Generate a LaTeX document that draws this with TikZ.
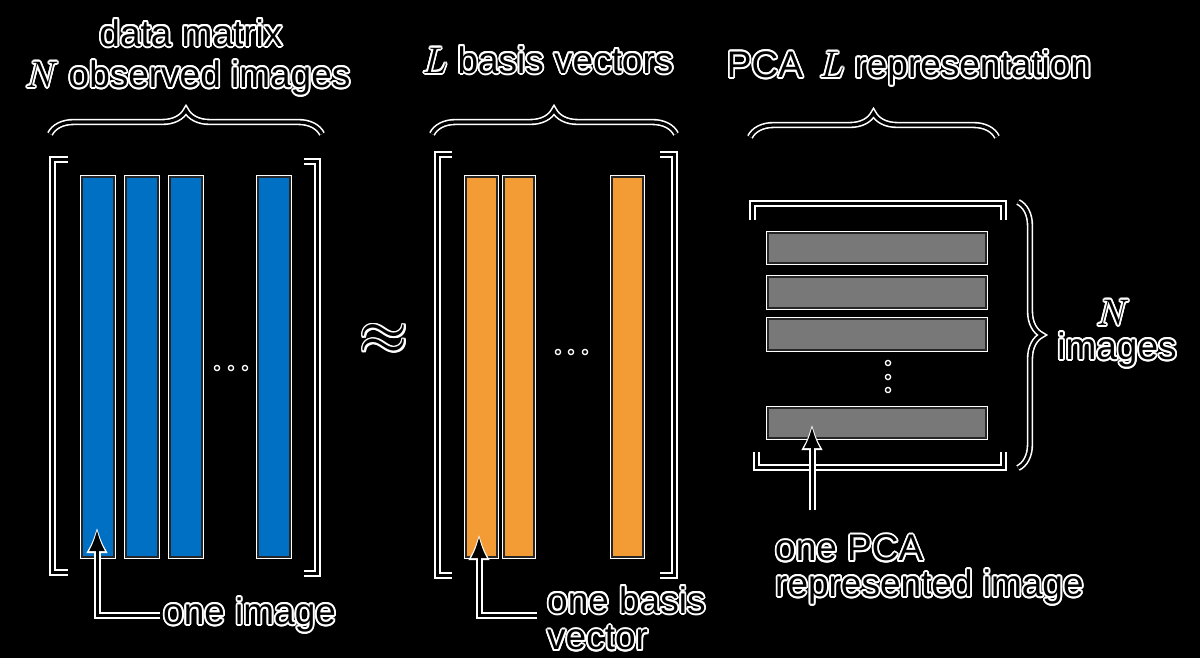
\RequirePackage{fix-cm}
\documentclass[tikz,border=0pt]{standalone}
\usepackage{fontspec}
\setmainfont{Liberation Sans}
\usetikzlibrary{arrows.meta,decorations.pathreplacing}
\definecolor{barblue}{RGB}{0,112,196}
\definecolor{barorange}{RGB}{243,156,54}
\definecolor{bargray}{RGB}{120,120,120}
\newcommand\hcp[3]{\rlap{\hskip#1\raisebox{#2}{#3}}}
\newcommand\halo[1]{{\color{white}%
\hcp{1.8pt}{0pt}{#1}\hcp{-1.8pt}{0pt}{#1}\hcp{0pt}{1.8pt}{#1}\hcp{0pt}{-1.8pt}{#1}%
\hcp{1.27pt}{1.27pt}{#1}\hcp{-1.27pt}{1.27pt}{#1}\hcp{1.27pt}{-1.27pt}{#1}\hcp{-1.27pt}{-1.27pt}{#1}%
\hcp{1.66pt}{0.7pt}{#1}\hcp{-1.66pt}{0.7pt}{#1}\hcp{1.66pt}{-0.7pt}{#1}\hcp{-1.66pt}{-0.7pt}{#1}%
\hcp{0.7pt}{1.66pt}{#1}\hcp{-0.7pt}{1.66pt}{#1}\hcp{0.7pt}{-1.66pt}{#1}\hcp{-0.7pt}{-1.66pt}{#1}}#1}
\begin{document}
\begin{tikzpicture}[x=1pt,y=-1pt,
  lbl/.style={inner sep=0pt,text=black,font=\fontsize{37}{44}\selectfont},
  brk/.style={draw=black,line width=3pt,line join=miter,preaction={draw=white,line width=7pt}},
  bar/.style={draw=black!85,line width=1.2pt,preaction={draw=white,line width=4.5pt}},
  brcw/.style={draw=white,line width=6.4pt,decorate,decoration={brace,amplitude=#1}},
  brcb/.style={draw=black,line width=3.2pt,decorate,decoration={brace,amplitude=#1}},
  dotw/.style={fill=black,draw=white,line width=1.3pt},
  arrw/.style={draw=white,line width=7pt,shorten >=-3pt,-{Latex[length=26pt,width=22pt]}},
  arrb/.style={draw=black,line width=3pt,-{Latex[length=21pt,width=16pt]}}]
\useasboundingbox (0,0) rectangle (1200,658);
\fill[black] (0,0) rectangle (1200,658);
% left matrix
\draw[brk] (68,160) -- (52,160) -- (52,572) -- (68,572);
\draw[brk] (304,162) -- (317,162) -- (317,573) -- (304,573);
\foreach \a/\b in {82/114,126/158,170/202,258/290}
  \draw[bar,fill=barblue] (\a,177) rectangle (\b,557);
\foreach \x in {217,231,245} \draw[dotw] (\x,368) circle (2.6);
% middle matrix
\draw[brk] (452,155) -- (437,155) -- (437,575) -- (452,575);
\draw[brk] (660,155) -- (674,155) -- (674,575) -- (660,575);
\foreach \a/\b in {466/497,504/534,612/643}
  \draw[bar,fill=barorange] (\a,177) rectangle (\b,557);
\foreach \x in {558,571,585} \draw[dotw] (\x,352) circle (2.6);
% right matrix
\draw[brk] (752,220) -- (752,203) -- (1003,203) -- (1003,220);
\draw[brk] (756,452) -- (756,467) -- (1003,467) -- (1003,452);
\foreach \a/\b in {233/263,277/308,319/350,408/438}
  \draw[bar,fill=bargray] (768,\a) rectangle (986,\b);
\foreach \y in {363,377,390} \draw[dotw] (888,\y) circle (2.6);
% braces
\draw[brcw=24pt] (50,134) -- (322,134);
\draw[brcb=24pt] (50,134) -- (322,134);
\draw[brcw=24pt] (432,134) -- (676,134);
\draw[brcb=24pt] (432,134) -- (676,134);
\draw[brcw=24pt] (750,137) -- (997,137);
\draw[brcb=24pt] (750,137) -- (997,137);
\draw[brcw=24pt] (1018,202) -- (1018,468);
\draw[brcb=24pt] (1018,202) -- (1018,468);
% labels
\node[lbl] (t1) at (191,33) {\halo{data matrix}};
\node[lbl] (t2) at (188,78) {\halo{$N$ observed images}};
\node[lbl] (t3) at (548,60) {\halo{$L$ basis vectors}};
\node[lbl] (t4) at (909,68) {\halo{PCA\hspace{0.45em}$L$ representation}};
\node[lbl,font=\fontsize{62}{62}\selectfont] (ap) at (384,340) {\halo{$\approx$}};
\node[lbl,anchor=west] (oi) at (163,615) {\halo{one image}};
\node[lbl,anchor=west] (ob) at (547,600) {\halo{one basis}};
\node[lbl,anchor=west] (vc) at (547,638) {\halo{vector}};
\node[lbl,anchor=west] (op) at (775,548) {\halo{one PCA}};
\node[lbl,anchor=west] (ri) at (775,587) {\halo{represented image}};
\node[lbl] (nn) at (1113,313) {\halo{$N$}};
\node[lbl] (im) at (1117,350) {\halo{images}};
% arrows
\coordinate (a1) at (97,530);
\coordinate (s1) at ([xshift=-3pt]oi.west);
\coordinate (a2) at (479,537);
\coordinate (s2) at (537,615);
\coordinate (a3) at (812,427);
\coordinate (s3) at (812,510);
\draw[arrw] (s1) -| (a1);
\draw[arrb] (s1) -| (a1);
\draw[arrw] (s2) -| (a2);
\draw[arrb] (s2) -| (a2);
\draw[arrw] (s3) -- (a3);
\draw[arrb] (s3) -- (a3);
\end{tikzpicture}
\end{document}
